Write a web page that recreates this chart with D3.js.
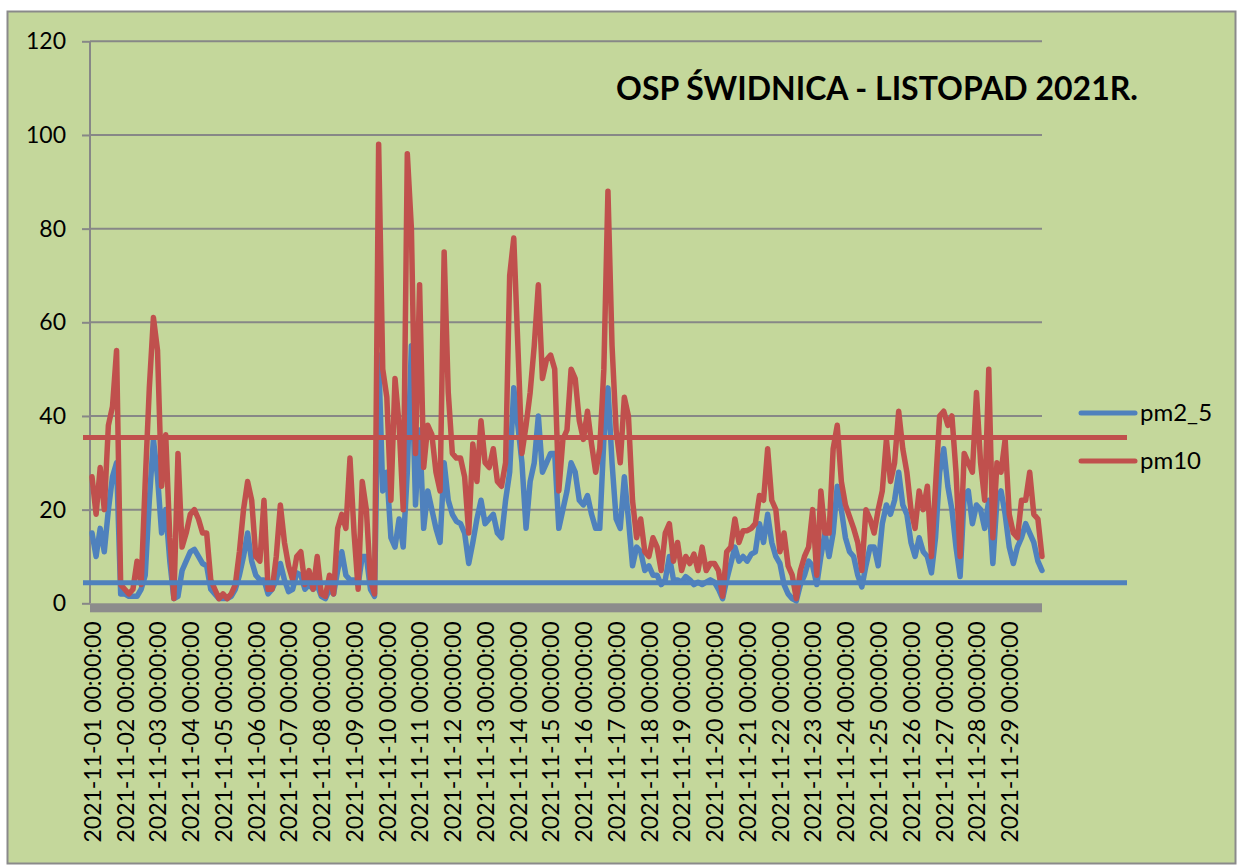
<!DOCTYPE html>
<html><head><meta charset="utf-8">
<script src="https://cdn.jsdelivr.net/npm/d3@7"></script>
<style>
html,body{margin:0;padding:0;background:#fff;}
svg{display:block;font-family:Lato,"Open Sans",sans-serif;}
</style></head>
<body><svg id="chart" width="1240" height="866"></svg>
<script>
// ---- data ----
const titleText = "OSP ŚWIDNICA - LISTOPAD 2021R.";
const seriesNames = ["pm2_5", "pm10"];
const stepHours = 3;          // one value every 3 hours, starting 2021-11-01 00:00
const totalHours = 696;
const dayLabels = [
 "2021-11-01 00:00:00","2021-11-02 00:00:00","2021-11-03 00:00:00","2021-11-04 00:00:00",
 "2021-11-05 00:00:00","2021-11-06 00:00:00","2021-11-07 00:00:00","2021-11-08 00:00:00",
 "2021-11-09 00:00:00","2021-11-10 00:00:00","2021-11-11 00:00:00","2021-11-12 00:00:00",
 "2021-11-13 00:00:00","2021-11-14 00:00:00","2021-11-15 00:00:00","2021-11-16 00:00:00",
 "2021-11-17 00:00:00","2021-11-18 00:00:00","2021-11-19 00:00:00","2021-11-20 00:00:00",
 "2021-11-21 00:00:00","2021-11-22 00:00:00","2021-11-23 00:00:00","2021-11-24 00:00:00",
 "2021-11-25 00:00:00","2021-11-26 00:00:00","2021-11-27 00:00:00","2021-11-28 00:00:00",
 "2021-11-29 00:00:00"];
const yTicks = [0, 20, 40, 60, 80, 100, 120];
const limitPm10 = 35.4;
const limitPm25 = 4.4;

const pm25 = [
 15,10,16,11,20,27,30,2,
 2,1.5,1.5,1.5,3,6,22,35,
 27,15,20,9,1,1.5,7,9,
 11,11.5,10,8.5,8,3,2,1,
 1,1,1.5,3,6,10,15,9,
 6,5,5,2,3,5,8.5,5,
 2.5,3,6.5,6,3,4,3,4,
 1.5,1,3,2,7,11,6,5,
 5,4,10,10,3,1.5,53,24,
 28,14,12,18,12,28,55,21,
 37,16,24,20,16,13,30,22,
 19,17.5,17,15,8.5,13,18,22,
 17,18,19,15,14,22,28,46,
 38,30,16,26,30,40,28,30,
 32,32,16,20,24,30,28,22,
 21,23,19,16,16,35,46,30,
 18,16,27,18,8,12,11,7,
 8,6,6,4,5,10,5,5,
 4.5,5.7,5,4,4.5,4,4.5,5,
 4.5,3,1,5,8.5,12,9,10,
 9,10.5,11,17,13,19,13,10,
 8.5,4,2,1,0.5,4,6,9,
 8,4,10,15,10,15,25,20,
 14,11,10,6,3.5,8,12,12,
 8,17,21,19,22,28,21,19,
 13,10,14,11,10,6.5,14,28,
 33,25,20,12,5.7,23,24,17,
 21,20,16,22,8.5,22,24,19,
 12,8.5,12,14,17,15,13,9,
 7];

const pm10 = [
 27,19,29,20,38,42,54,4,
 3,2,3,9,4,26,46,61,
 54,25,36,14,1,32,12,15,
 19,20,18,15,15,5,3,1,
 2,1,2,4,11,20,26,22,
 10,9,22,3,3,10,21,13,
 8,5,10,11,4,7,3,10,
 2,1.5,6,2,16,19,16,31,
 15,3,26,20,5,2,98,50,
 44,22,48,38,20,96,80,32,
 68,29,38,36,28,24,75,45,
 32,31,31,27,15,34,26,39,
 30,29,33,26,25,30,70,78,
 55,32,38,45,55,68,48,52,
 53,50,24,35,37,50,48,39,
 35,41,34,28,33,50,88,55,
 37,30,44,40,22,14,18,11,
 10,14,12,7,15,17,9,13,
 7,10,8.5,10.5,7,12,7,8.5,
 8.5,7,1.5,11,12,18,13,15.5,
 15.5,16,17,23,22,33,22,20,
 11,15,8,6,1,7,10,12,
 20,6,24,15,15,33,38,26,
 21,18.5,16,13,7,20,18,15,
 20,24,35,26,30,41,33,28,
 20,16,24,20,25,10,25,40,
 41,38,40,28,10,32,30,28,
 45,30,22,50,14,30,28,35,
 19,15,14,22,22,28,19,18,
 10];

// ---- drawing ----
const svg = d3.select("#chart");
const bg = "#C4D79B", gridC = "#878787";
const blue = "#4F81BD", red = "#C0504D";
const labelFont = "23px";

svg.append("rect").attr("x", 7.5).attr("y", 11.5).attr("width", 1228).attr("height", 852)
  .attr("fill", bg).attr("stroke", "#8a8a8a").attr("stroke-width", 2);

const x = d3.scaleLinear().domain([0, totalHours]).range([92, 1042]);
const y = d3.scaleLinear().domain([0, 120]).range([603.3, 41.3]);
const plotLeft = 90, plotRight = 1042;

// gridlines + y axis
const yAxis = d3.axisLeft(y).tickValues(yTicks).tickSize(8).tickPadding(16).tickFormat(d3.format("d"));
const gY = svg.append("g").attr("transform", `translate(${plotLeft},0)`).call(yAxis);
gY.select(".domain").remove();
gY.selectAll(".tick line").attr("stroke", gridC).attr("stroke-width", 2);
gY.selectAll(".tick text").attr("fill", "#000").style("font-size", labelFont).style("font-family", "Lato");
svg.append("g").selectAll("line").data(yTicks.filter(d => d > 0)).join("line")
  .attr("x1", plotLeft).attr("x2", plotRight).attr("y1", d => y(d)).attr("y2", d => y(d))
  .attr("stroke", gridC).attr("stroke-width", 2);
svg.append("line").attr("x1", plotLeft).attr("x2", plotLeft).attr("y1", y(120)).attr("y2", y(0))
  .attr("stroke", gridC).attr("stroke-width", 2);

// floor / x axis band
svg.append("rect").attr("x", plotLeft).attr("y", y(0)).attr("width", plotRight - plotLeft).attr("height", 9)
  .attr("fill", "#8c8c8c");

// x labels
const dayHours = dayLabels.map((d, i) => i * 24);
const xAxis = d3.axisBottom(x).tickValues(dayHours).tickSize(0).tickFormat((d, i) => dayLabels[i]);
const gX = svg.append("g").attr("transform", `translate(0,${y(0) + 18})`).call(xAxis);
gX.select(".domain").remove();
gX.selectAll(".tick text")
  .attr("fill", "#000").style("font-size", labelFont).style("font-family", "Lato")
  .attr("text-anchor", "end").attr("transform", "rotate(-90)")
  .attr("x", 0).attr("y", 0).attr("dy", "0.36em");

// series
const line = d3.line().x((d, i) => x(i * stepHours)).y(d => y(d)).curve(d3.curveLinear);
svg.append("path").datum(pm25).attr("d", line).attr("fill", "none").attr("stroke", blue)
  .attr("stroke-width", 5.5).attr("stroke-linejoin", "round").attr("stroke-linecap", "round");
svg.append("path").datum(pm10).attr("d", line).attr("fill", "none").attr("stroke", red)
  .attr("stroke-width", 5.5).attr("stroke-linejoin", "round").attr("stroke-linecap", "round");

// limit lines
const limX1 = plotLeft - 7, limX2 = 1127;
svg.append("line").attr("x1", limX1).attr("x2", limX2).attr("y1", y(limitPm10)).attr("y2", y(limitPm10))
  .attr("stroke", red).attr("stroke-width", 5);
svg.append("line").attr("x1", limX1).attr("x2", limX2).attr("y1", y(limitPm25)).attr("y2", y(limitPm25))
  .attr("stroke", blue).attr("stroke-width", 5);

// title
svg.append("text").attr("x", 877).attr("y", 100).attr("text-anchor", "middle")
  .style("font-size", "32px").style("font-weight", "bold").style("font-family", "Lato")
  .attr("fill", "#000").text(titleText);

// legend
const legY = [413, 461];
const legColors = [blue, red];
const leg = svg.append("g").selectAll("g").data(seriesNames).join("g")
  .attr("transform", (d, i) => `translate(0,${legY[i]})`);
leg.append("line").attr("x1", 1081).attr("x2", 1135).attr("y1", 0).attr("y2", 0)
  .attr("stroke", (d, i) => legColors[i]).attr("stroke-width", 5).attr("stroke-linecap", "round");
leg.append("text").attr("x", 1140).attr("y", 0).attr("dy", "0.35em")
  .style("font-size", "24px").style("font-family", "Lato").attr("fill", "#000").text(d => d);
</script></body></html>
